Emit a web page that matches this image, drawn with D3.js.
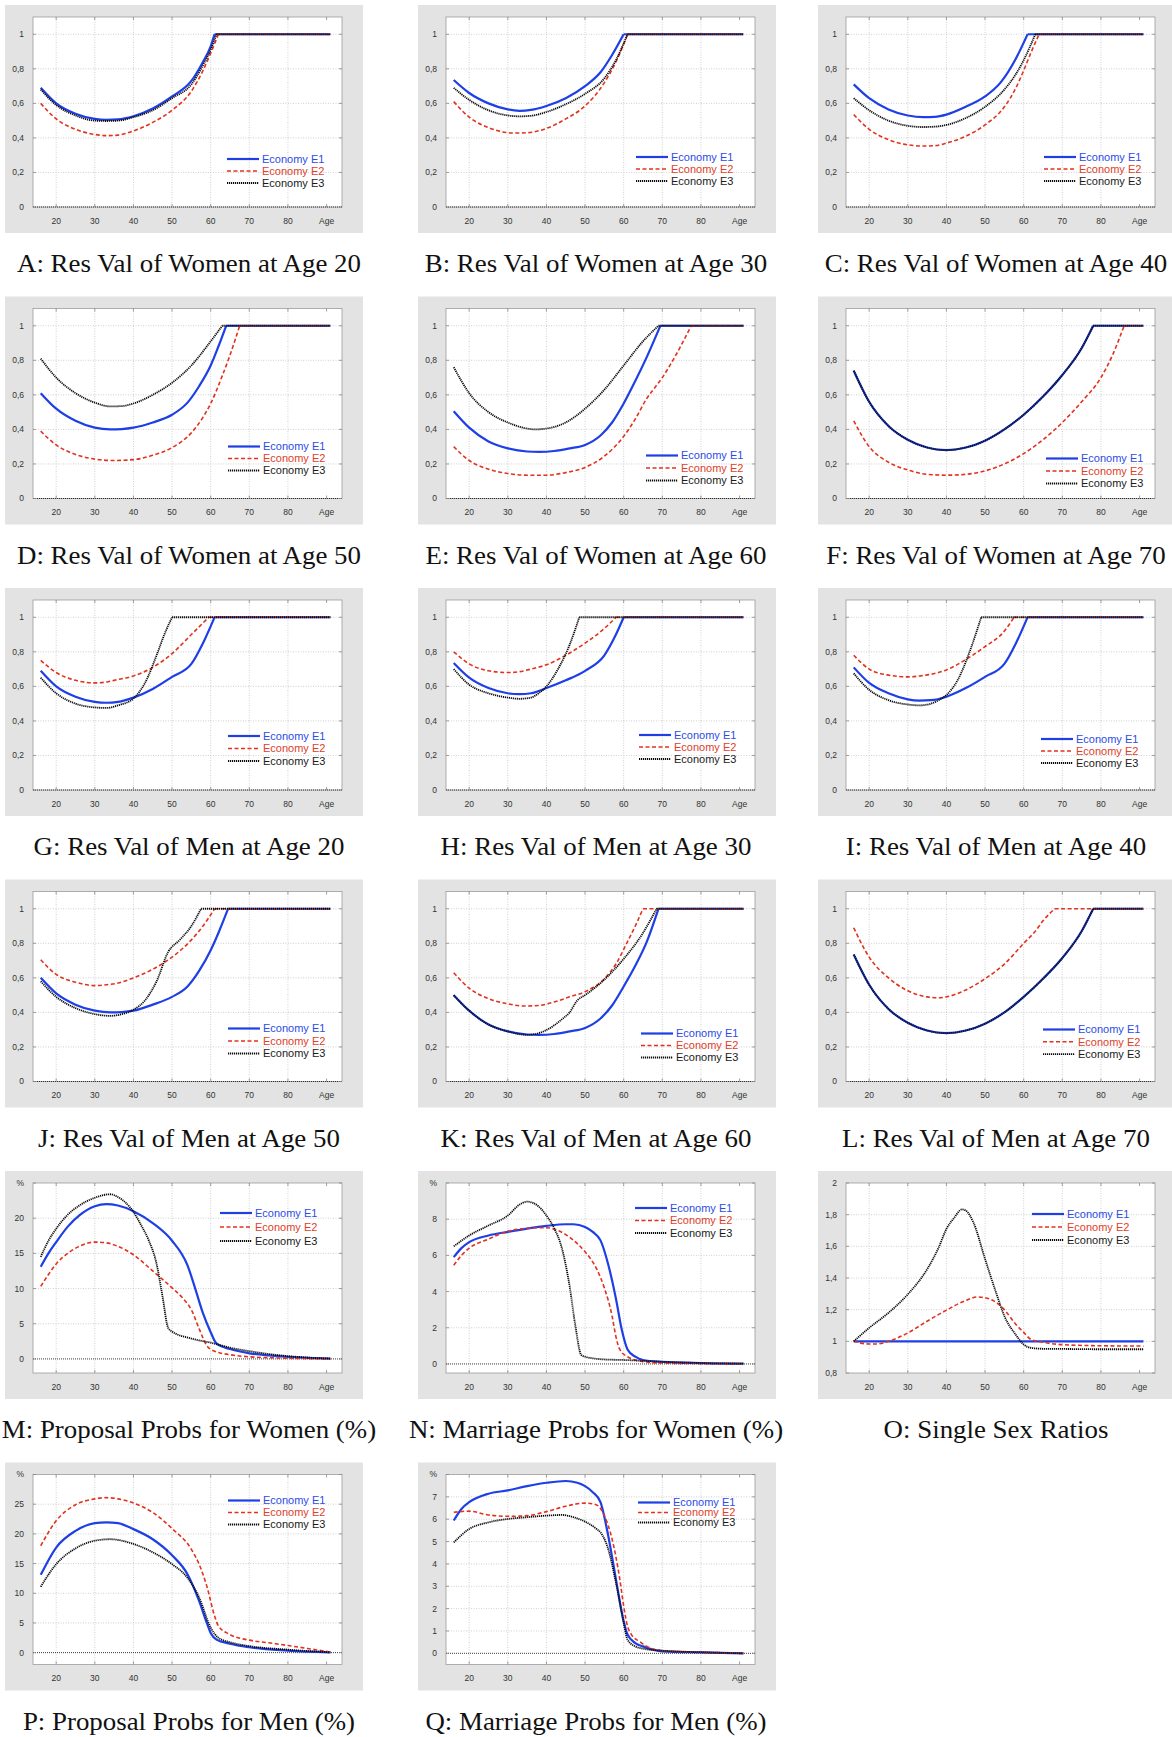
<!DOCTYPE html>
<html>
<head>
<meta charset="utf-8">
<script src="https://cdn.jsdelivr.net/npm/d3@7"></script>
<style>
  body { margin: 0; background: #fff; }
  svg { display: block; }
  .tick-label { font-family: "Liberation Sans", Arial, sans-serif; font-size: 8.5px; fill: #333; }
  .legend-text { font-family: "Liberation Sans", Arial, sans-serif; font-size: 11px; }
  .caption { font-family: "Liberation Serif", "Times New Roman", serif; font-size: 25px; fill: #111; }
</style>
</head>
<body>
<div id="chart"></div>
<script>
// ---- data: [age, value] pairs ----
const seriesLabels = ["Economy E1", "Economy E2", "Economy E3"];
const xTickValues = [20, 30, 40, 50, 60, 70, 80, 90];
const xTickLabels = ["20", "30", "40", "50", "60", "70", "80", "Age"];

const resValTicks = [0, 0.2, 0.4, 0.6, 0.8, 1];
const resValLabels = ["0", "0,2", "0,4", "0,6", "0,8", "1"];
const proposalWomenTicks = [0, 5, 10, 15, 20, 25];
const proposalWomenLabels = ["0", "5", "10", "15", "20", "%"];
const marriageWomenTicks = [0, 2, 4, 6, 8, 10];
const marriageWomenLabels = ["0", "2", "4", "6", "8", "%"];
const sexRatioTicks = [0.8, 1, 1.2, 1.4, 1.6, 1.8, 2];
const sexRatioLabels = ["0,8", "1", "1,2", "1,4", "1,6", "1,8", "2"];
const proposalMenTicks = [0, 5, 10, 15, 20, 25, 30];
const proposalMenLabels = ["0", "5", "10", "15", "20", "25", "%"];
const marriageMenTicks = [0, 1, 2, 3, 4, 5, 6, 7, 8];
const marriageMenLabels = ["0", "1", "2", "3", "4", "5", "6", "7", "%"];

// A
const women20E1 = [[16,0.69],[20,0.60],[25,0.54],[30,0.51],[33,0.505],[36,0.507],[40,0.525],[45,0.57],[50,0.64],[55,0.73],[58,0.84],[60,0.93],[61,1],[91,1]];
const women20E2 = [[16,0.60],[20,0.51],[25,0.45],[30,0.42],[33,0.413],[36,0.416],[40,0.44],[45,0.49],[50,0.56],[55,0.67],[58,0.79],[60,0.89],[62,1],[91,1]];
const women20E3 = [[16,0.68],[20,0.59],[25,0.53],[30,0.50],[33,0.498],[36,0.50],[40,0.52],[45,0.56],[50,0.63],[55,0.71],[58,0.82],[60,0.91],[61.5,1],[91,1]];
// B
const women30E1 = [[16,0.735],[20,0.66],[25,0.60],[30,0.565],[33,0.557],[36,0.562],[40,0.585],[45,0.63],[50,0.70],[54,0.78],[57,0.88],[60,1],[91,1]];
const women30E2 = [[16,0.61],[20,0.52],[25,0.46],[30,0.43],[32,0.428],[35,0.43],[40,0.455],[45,0.51],[50,0.585],[55,0.72],[58,0.84],[61,1],[91,1]];
const women30E3 = [[16,0.69],[20,0.62],[25,0.56],[30,0.53],[33,0.525],[36,0.528],[40,0.55],[45,0.595],[50,0.655],[55,0.745],[58,0.85],[61,1],[91,1]];
// C
const women40E1 = [[16,0.71],[20,0.63],[25,0.565],[30,0.53],[34,0.52],[37,0.522],[40,0.535],[45,0.58],[50,0.64],[54,0.72],[58,0.86],[61,1],[91,1]];
const women40E2 = [[16,0.535],[20,0.45],[25,0.39],[30,0.36],[34,0.353],[37,0.355],[40,0.37],[45,0.41],[50,0.475],[55,0.58],[58,0.69],[60,0.79],[62,0.90],[64,1],[91,1]];
const women40E3 = [[16,0.63],[20,0.56],[25,0.50],[30,0.47],[34,0.463],[37,0.465],[40,0.475],[45,0.515],[50,0.58],[55,0.68],[58,0.77],[60,0.85],[63,1],[91,1]];
// D
const women50E1 = [[16,0.61],[20,0.52],[25,0.45],[30,0.41],[34,0.40],[37,0.402],[40,0.41],[45,0.44],[50,0.485],[54,0.555],[57,0.65],[60,0.77],[62,0.88],[64,1],[91,1]];
const women50E2 = [[16,0.39],[20,0.31],[25,0.255],[30,0.228],[35,0.22],[40,0.225],[45,0.25],[50,0.295],[55,0.38],[58,0.47],[60,0.55],[63,0.71],[65,0.83],[67.5,1],[91,1]];
const women50E3 = [[16,0.81],[20,0.70],[25,0.61],[30,0.555],[34,0.533],[37,0.535],[40,0.55],[45,0.60],[50,0.67],[55,0.77],[60,0.91],[63,1],[91,1]];
// E
const women60E1 = [[16,0.505],[20,0.41],[25,0.33],[30,0.29],[35,0.272],[38,0.27],[42,0.275],[46,0.29],[50,0.31],[54,0.365],[57,0.44],[60,0.55],[63,0.68],[66,0.82],[69.5,1],[91,1]];
const women60E2 = [[16,0.30],[20,0.22],[25,0.17],[30,0.145],[35,0.135],[40,0.135],[45,0.15],[50,0.18],[55,0.245],[60,0.36],[63,0.46],[66,0.58],[68,0.64],[70,0.70],[73,0.81],[77.5,1],[91,1]];
const women60E3 = [[16,0.76],[20,0.61],[25,0.50],[30,0.44],[35,0.405],[37,0.40],[40,0.405],[45,0.44],[50,0.52],[55,0.63],[60,0.77],[65,0.91],[69,1],[91,1]];
// F
const women70E1 = [[16,0.74],[20,0.56],[25,0.42],[30,0.34],[35,0.295],[40,0.28],[45,0.295],[50,0.335],[55,0.40],[60,0.485],[65,0.59],[70,0.715],[75,0.87],[78,1],[91,1]];
const women70E2 = [[16,0.45],[20,0.30],[25,0.21],[30,0.165],[35,0.14],[40,0.135],[45,0.14],[50,0.16],[55,0.20],[60,0.26],[65,0.34],[70,0.44],[75,0.56],[80,0.70],[83,0.83],[86,1],[91,1]];
const women70E3 = [[16,0.74],[20,0.56],[25,0.42],[30,0.34],[35,0.295],[40,0.28],[45,0.295],[50,0.335],[55,0.40],[60,0.485],[65,0.59],[70,0.715],[75,0.87],[78,1],[91,1]];
// G
const men20E1 = [[16,0.69],[20,0.60],[25,0.54],[30,0.51],[33,0.505],[36,0.51],[40,0.535],[45,0.585],[50,0.655],[55,0.73],[58,0.85],[61,1],[91,1]];
const men20E2 = [[16,0.75],[20,0.68],[25,0.635],[30,0.62],[33,0.625],[36,0.64],[40,0.66],[45,0.71],[50,0.79],[55,0.90],[59.5,1],[91,1]];
const men20E3 = [[16,0.65],[20,0.56],[25,0.50],[30,0.478],[33,0.475],[36,0.49],[40,0.53],[43,0.62],[46,0.78],[48,0.90],[50,1],[91,1]];
// H
const men30E1 = [[16,0.735],[20,0.65],[25,0.59],[30,0.56],[33,0.555],[36,0.56],[40,0.59],[45,0.635],[50,0.69],[55,0.78],[58,0.90],[60,1],[91,1]];
const men30E2 = [[16,0.80],[20,0.73],[25,0.69],[30,0.68],[33,0.685],[36,0.70],[40,0.725],[45,0.78],[50,0.85],[55,0.935],[58,1],[91,1]];
const men30E3 = [[16,0.70],[20,0.61],[25,0.56],[30,0.535],[33,0.528],[36,0.535],[38,0.56],[40,0.60],[43,0.70],[46,0.84],[48.5,1],[91,1]];
// I
const men40E1 = [[16,0.71],[20,0.62],[25,0.56],[30,0.525],[33,0.518],[36,0.52],[40,0.54],[45,0.59],[50,0.655],[55,0.73],[58,0.85],[61,1],[91,1]];
const men40E2 = [[16,0.78],[20,0.70],[25,0.665],[30,0.655],[33,0.66],[36,0.67],[40,0.695],[45,0.755],[50,0.83],[55,0.92],[57.5,1],[91,1]];
const men40E3 = [[16,0.675],[20,0.58],[25,0.52],[30,0.495],[33,0.49],[36,0.50],[38,0.52],[40,0.55],[43,0.64],[46,0.80],[49,1],[91,1]];
// J
const men50E1 = [[16,0.60],[20,0.51],[25,0.445],[30,0.41],[34,0.40],[37,0.402],[40,0.41],[45,0.445],[50,0.49],[54,0.55],[57,0.64],[60,0.76],[62,0.86],[64.5,1],[91,1]];
const men50E2 = [[16,0.705],[20,0.62],[25,0.575],[30,0.555],[33,0.56],[36,0.57],[40,0.60],[45,0.65],[50,0.72],[55,0.82],[58,0.90],[61,1],[91,1]];
const men50E3 = [[16,0.58],[20,0.49],[25,0.425],[30,0.39],[34,0.38],[37,0.39],[40,0.415],[43,0.47],[46,0.58],[49,0.75],[52,0.82],[55,0.90],[57.5,1],[91,1]];
// K
const men60E1 = [[16,0.50],[20,0.41],[25,0.33],[30,0.29],[35,0.272],[38,0.27],[42,0.275],[46,0.29],[50,0.31],[54,0.365],[57,0.44],[60,0.55],[63,0.67],[66,0.81],[69,1],[91,1]];
const men60E2 = [[16,0.63],[20,0.54],[25,0.48],[30,0.45],[34,0.437],[38,0.44],[42,0.46],[46,0.49],[50,0.52],[55,0.595],[58,0.68],[61,0.81],[63,0.90],[65,1],[91,1]];
const men60E3 = [[16,0.50],[20,0.41],[25,0.33],[30,0.29],[35,0.27],[38,0.28],[41,0.31],[44,0.36],[46,0.40],[48,0.47],[50,0.50],[55,0.59],[60,0.71],[65,0.86],[68.5,1],[91,1]];
// L
const men70E1 = [[16,0.735],[20,0.56],[25,0.42],[30,0.34],[35,0.295],[40,0.28],[45,0.295],[50,0.335],[55,0.40],[60,0.49],[65,0.595],[70,0.715],[75,0.87],[78,1],[91,1]];
const men70E2 = [[16,0.89],[20,0.72],[25,0.60],[30,0.525],[35,0.49],[38,0.485],[40,0.49],[45,0.53],[50,0.595],[55,0.68],[60,0.80],[63,0.87],[65,0.93],[68,1],[91,1]];
const men70E3 = [[16,0.735],[20,0.56],[25,0.42],[30,0.34],[35,0.295],[40,0.28],[45,0.295],[50,0.335],[55,0.40],[60,0.49],[65,0.595],[70,0.715],[75,0.87],[78,1],[91,1]];
// M
const proposalWomenE1 = [[16,13.1],[18,15.0],[20,16.6],[23,18.8],[26,20.4],[30,21.7],[33,22.0],[36,21.8],[40,21.0],[45,19.3],[50,16.8],[54,13.3],[56,10.0],[58,6.5],[60,3.8],[61.5,2.2],[65,1.4],[70,0.8],[75,0.5],[80,0.3],[85,0.15],[91,0.05]];
const proposalWomenE2 = [[16,10.3],[18,12.0],[20,13.5],[23,15.0],[26,16.0],[30,16.6],[33,16.5],[36,16.0],[40,14.8],[45,12.5],[50,10.1],[53,8.5],[55,7.0],[57,4.3],[59,1.9],[61,1.1],[65,0.6],[70,0.3],[80,0.1],[91,0]];
const proposalWomenE3 = [[16,14.5],[18,16.8],[20,18.5],[23,20.5],[26,21.8],[30,22.9],[34,23.4],[36,23.0],[38,22.2],[40,20.9],[42,19.0],[44,16.8],[46,13.5],[47.5,9.0],[49,4.4],[50,3.9],[55,2.9],[60,2.3],[65,1.6],[70,1.1],[75,0.7],[80,0.4],[85,0.2],[91,0.05]];
// N
const marriageWomenE1 = [[16,5.9],[18,6.4],[20,6.73],[25,7.1],[30,7.3],[35,7.48],[40,7.63],[45,7.72],[47,7.72],[50,7.57],[52,7.3],[54,6.83],[56,5.5],[58,3.6],[59.5,1.9],[61,0.8],[63,0.4],[65,0.22],[70,0.12],[80,0.05],[91,0.02]];
const marriageWomenE2 = [[16,5.45],[18,6.0],[20,6.4],[25,6.9],[30,7.33],[35,7.5],[40,7.53],[42,7.45],[45,7.15],[48,6.65],[50,6.2],[53,5.25],[55,4.2],[57,2.65],[58,1.5],[59,0.8],[61,0.4],[65,0.13],[70,0.05],[80,0.02],[91,0]];
const marriageWomenE3 = [[16,6.5],[20,7.1],[25,7.65],[30,8.2],[33,8.8],[35,8.97],[38,8.7],[40,8.2],[42,7.5],[44,6.4],[46,4.3],[47.5,2.1],[49,0.5],[50,0.4],[55,0.25],[60,0.22],[70,0.12],[80,0.05],[91,0.02]];
// O
const sexRatioE1 = [[16,1],[91,1]];
const sexRatioE2 = [[16,1.0],[20,0.983],[22,0.983],[25,1.0],[30,1.053],[35,1.127],[40,1.197],[45,1.258],[48,1.28],[50,1.275],[53,1.244],[55,1.2],[58,1.106],[60,1.057],[62,1.01],[65,0.994],[70,0.979],[80,0.972],[91,0.97]];
const sexRatioE3 = [[16,1.0],[20,1.085],[25,1.18],[30,1.297],[35,1.455],[38,1.593],[40,1.71],[42,1.78],[44,1.833],[45,1.826],[47,1.75],[50,1.52],[53,1.297],[55,1.16],[58,1.04],[60,0.98],[62,0.958],[65,0.953],[70,0.952],[80,0.95],[91,0.95]];
// P
const proposalMenE1 = [[16,13.1],[20,17.7],[25,20.5],[30,21.8],[33,21.95],[36,21.8],[40,20.8],[45,19.1],[50,16.4],[54,13.2],[57,8.7],[59,5.0],[60,3.3],[61.5,2.2],[65,1.5],[70,0.9],[80,0.35],[91,0.05]];
const proposalMenE2 = [[16,18.0],[20,22.2],[25,24.9],[30,25.9],[33,26.1],[36,25.9],[40,25.2],[45,23.6],[50,20.9],[55,17.4],[57,14.9],[59,11.2],[61,6.2],[62,4.5],[65,3.05],[70,2.1],[75,1.65],[80,1.2],[85,0.7],[91,0.1]];
const proposalMenE3 = [[16,11.1],[20,14.9],[25,17.55],[30,18.85],[34,19.1],[40,18.3],[45,16.9],[50,14.9],[54,12.6],[57,9.3],[60,4.2],[62,2.5],[65,1.75],[70,1.1],[80,0.5],[91,0.05]];
// Q
const marriageMenE1 = [[16,5.94],[18,6.46],[20,6.76],[25,7.14],[30,7.29],[35,7.48],[40,7.63],[45,7.71],[48,7.63],[50,7.48],[52,7.21],[54,6.76],[56,5.26],[58,3.31],[60,1.44],[61,0.84],[63,0.46],[65,0.31],[70,0.09],[80,0.04],[91,0]];
const marriageMenE2 = [[16,6.31],[20,6.36],[25,6.19],[30,6.13],[35,6.16],[40,6.34],[45,6.58],[50,6.72],[53,6.64],[55,6.16],[57,5.11],[59,3.31],[60,2.11],[61,1.21],[62,0.84],[64,0.54],[66,0.31],[70,0.12],[80,0.05],[91,0]];
const marriageMenE3 = [[16,4.96],[20,5.56],[25,5.86],[30,6.01],[35,6.09],[40,6.16],[44,6.19],[47,6.09],[50,5.89],[53,5.56],[54,5.41],[56,4.66],[58,3.16],[60,1.36],[61,0.61],[63,0.31],[65,0.21],[70,0.12],[80,0.05],[91,0]];

// ---- panels ----
const resAxis = { domain: [0, 1.1], ticks: resValTicks, labels: resValLabels };
const panels = [
  { title: "A: Res Val of Women at Age 20", series: [women20E1, women20E2, women20E3], axis: resAxis, legend: [222, 154, 12], capped: true },
  { title: "B: Res Val of Women at Age 30", series: [women30E1, women30E2, women30E3], axis: resAxis, legend: [218, 152, 12], capped: true },
  { title: "C: Res Val of Women at Age 40", series: [women40E1, women40E2, women40E3], axis: resAxis, legend: [226, 152, 12], capped: true },
  { title: "D: Res Val of Women at Age 50", series: [women50E1, women50E2, women50E3], axis: resAxis, legend: [223, 150, 12], capped: true },
  { title: "E: Res Val of Women at Age 60", series: [women60E1, women60E2, women60E3], axis: resAxis, legend: [228, 159, 12.5], capped: true },
  { title: "F: Res Val of Women at Age 70", series: [women70E1, women70E2, women70E3], axis: resAxis, legend: [228, 162, 12.5], capped: true },
  { title: "G: Res Val of Men at Age 20", series: [men20E1, men20E2, men20E3], axis: resAxis, legend: [223, 148, 12.5], capped: true },
  { title: "H: Res Val of Men at Age 30", series: [men30E1, men30E2, men30E3], axis: resAxis, legend: [221, 147, 12], capped: true },
  { title: "I: Res Val of Men at Age 40", series: [men40E1, men40E2, men40E3], axis: resAxis, legend: [223, 151, 12], capped: true },
  { title: "J: Res Val of Men at Age 50", series: [men50E1, men50E2, men50E3], axis: resAxis, legend: [223, 149, 12.5], capped: true },
  { title: "K: Res Val of Men at Age 60", series: [men60E1, men60E2, men60E3], axis: resAxis, legend: [223, 154, 12], capped: true },
  { title: "L: Res Val of Men at Age 70", series: [men70E1, men70E2, men70E3], axis: resAxis, legend: [225, 150, 12.3], capped: true },
  { title: "M: Proposal Probs for Women (%)", series: [proposalWomenE1, proposalWomenE2, proposalWomenE3],
    axis: { domain: [-2, 25], ticks: proposalWomenTicks, labels: proposalWomenLabels }, legend: [215, 42, 14] },
  { title: "N: Marriage Probs for Women (%)", series: [marriageWomenE1, marriageWomenE2, marriageWomenE3],
    axis: { domain: [-0.5, 10], ticks: marriageWomenTicks, labels: marriageWomenLabels }, legend: [217, 37, 12.5] },
  { title: "O: Single Sex Ratios", series: [sexRatioE1, sexRatioE2, sexRatioE3],
    axis: { domain: [0.8, 2], ticks: sexRatioTicks, labels: sexRatioLabels }, legend: [214, 43, 13] },
  { title: "P: Proposal Probs for Men (%)", series: [proposalMenE1, proposalMenE2, proposalMenE3],
    axis: { domain: [-2, 30], ticks: proposalMenTicks, labels: proposalMenLabels }, legend: [223, 38, 12] },
  { title: "Q: Marriage Probs for Men (%)", series: [marriageMenE1, marriageMenE2, marriageMenE3],
    axis: { domain: [-0.5, 8], ticks: marriageMenTicks, labels: marriageMenLabels }, legend: [220, 40, 10] },
];

// ---- layout ----
const width = 1172;
const height = 1737;
const colX = [5, 418, 818];
const rowY0 = 5;
const rowStep = 291.5;
const boxW = 358;
const boxH = 228;
const plotLeft = 28;
const plotRight = 337;
const plotTop = 12;
const plotBottom = 202;
const captionStretch = 1.075; // the original uses a wider TeX serif

const lineStyles = [
  { stroke: "#1e3fe6", width: 2.2, dash: null, text: "#2b4ce8" },
  { stroke: "#e2321e", width: 1.6, dash: "4,2.5", text: "#e0402a" },
  { stroke: "#0a0a0a", width: 1.8, dash: "1.2,0.8", text: "#1a1a1a" },
];

const svg = d3.select("#chart").append("svg")
  .attr("width", width)
  .attr("height", height)
  .attr("viewBox", [0, 0, width, height]);

svg.append("rect").attr("width", width).attr("height", height).attr("fill", "#fff");

const x = d3.scaleLinear().domain([14, 94]).range([plotLeft, plotRight]);

const line = d3.line()
  .x((d) => x(d[0]))
  .curve(d3.curveMonotoneX);

panels.forEach((panel, i) => drawPanel(panel, i));

function drawPanel(panel, i) {
  const col = i % 3;
  const row = Math.floor(i / 3);
  const g = svg.append("g")
    .attr("class", "panel")
    .attr("transform", `translate(${colX[col]},${rowY0 + row * rowStep})`);

  const y = d3.scaleLinear().domain(panel.axis.domain).range([plotBottom, plotTop]);
  const [y0, y1] = panel.axis.domain;

  g.append("rect")
    .attr("width", boxW)
    .attr("height", boxH)
    .attr("fill", "#e2e3e2");

  g.append("rect")
    .attr("x", plotLeft)
    .attr("y", plotTop)
    .attr("width", plotRight - plotLeft)
    .attr("height", plotBottom - plotTop)
    .attr("fill", "#fff");

  // grid
  const grid = g.append("g").attr("class", "grid")
    .attr("stroke", "#c4c4c4")
    .attr("stroke-width", 0.8)
    .attr("stroke-dasharray", "1,1.5");
  grid.selectAll(".vgrid")
    .data(xTickValues.filter((d) => d < 90))
    .join("line")
    .attr("x1", (d) => x(d)).attr("x2", (d) => x(d))
    .attr("y1", plotTop).attr("y2", plotBottom);
  grid.selectAll(".hgrid")
    .data(panel.axis.ticks.filter((d) => d > y0 && d < y1 && d !== 0))
    .join("line")
    .attr("x1", plotLeft).attr("x2", plotRight)
    .attr("y1", (d) => y(d)).attr("y2", (d) => y(d));

  // frame
  g.append("rect")
    .attr("x", plotLeft)
    .attr("y", plotTop)
    .attr("width", plotRight - plotLeft)
    .attr("height", plotBottom - plotTop)
    .attr("fill", "none")
    .attr("stroke", "#9c9c9c")
    .attr("stroke-width", 0.8);

  // zero line
  if (y0 <= 0 && y1 >= 0) {
    g.append("line")
      .attr("x1", plotLeft).attr("x2", plotRight)
      .attr("y1", y(0)).attr("y2", y(0))
      .attr("stroke", "#222")
      .attr("stroke-width", 0.9)
      .attr("stroke-dasharray", "1,1");
  }

  // inward tick marks, mirrored
  const ticks = g.append("g").attr("stroke", "#888").attr("stroke-width", 0.8);
  xTickValues.forEach((d) => {
    ticks.append("line").attr("x1", x(d)).attr("x2", x(d)).attr("y1", plotBottom).attr("y2", plotBottom - 3);
    ticks.append("line").attr("x1", x(d)).attr("x2", x(d)).attr("y1", plotTop).attr("y2", plotTop + 3);
  });
  panel.axis.ticks.forEach((d) => {
    ticks.append("line").attr("x1", plotLeft).attr("x2", plotLeft + 3).attr("y1", y(d)).attr("y2", y(d));
    ticks.append("line").attr("x1", plotRight).attr("x2", plotRight - 3).attr("y1", y(d)).attr("y2", y(d));
  });

  // tick labels
  g.selectAll(".x-label")
    .data(xTickValues)
    .join("text")
    .attr("class", "tick-label")
    .attr("x", (d) => x(d))
    .attr("y", plotBottom + 16.5)
    .attr("text-anchor", "middle")
    .text((d, j) => xTickLabels[j]);

  g.selectAll(".y-label")
    .data(panel.axis.ticks)
    .join("text")
    .attr("class", "tick-label")
    .attr("x", plotLeft - 9)
    .attr("y", (d) => y(d))
    .attr("dy", "0.35em")
    .attr("text-anchor", "end")
    .text((d, j) => panel.axis.labels[j]);

  // series
  const linesG = g.append("g").attr("fill", "none");
  panel.series.forEach((data, k) => {
    const style = lineStyles[k];
    const pieces = panel.capped ? splitAtCap(data) : [data];
    pieces.forEach((piece, p) => {
      linesG.append("path")
        .attr("d", line.y((d) => y(d[1])).curve(p === 0 ? d3.curveMonotoneX : d3.curveLinear)(piece))
        .attr("stroke", style.stroke)
        .attr("stroke-width", style.width)
        .attr("stroke-dasharray", style.dash)
        .attr("stroke-linejoin", "round");
    });
  });

  // legend
  const [lx, ly, ldy] = panel.legend;
  const legend = g.append("g").attr("class", "legend");
  seriesLabels.forEach((label, k) => {
    const style = lineStyles[k];
    const yy = ly + k * ldy;
    legend.append("line")
      .attr("x1", lx).attr("x2", lx + 32)
      .attr("y1", yy).attr("y2", yy)
      .attr("stroke", style.stroke)
      .attr("stroke-width", style.width)
      .attr("stroke-dasharray", style.dash);
    legend.append("text")
      .attr("class", "legend-text")
      .attr("x", lx + 35)
      .attr("y", yy)
      .attr("dy", "0.36em")
      .attr("fill", style.text)
      .text(label);
  });

  // caption
  const caption = g.append("text")
    .attr("class", "caption")
    .attr("x", col === 0 ? 184 : 178)
    .attr("y", 267)
    .attr("text-anchor", "middle")
    .text(panel.title);
  const w = caption.node().getComputedTextLength();
  caption.attr("textLength", w * captionStretch).attr("lengthAdjust", "spacingAndGlyphs");
}

// split a reservation-value series where it first reaches 1, so the kink stays sharp
function splitAtCap(data) {
  const idx = data.findIndex((d) => d[1] >= 1);
  if (idx <= 0) return [data];
  return [data.slice(0, idx + 1), data.slice(idx)];
}
</script>
</body>
</html>
